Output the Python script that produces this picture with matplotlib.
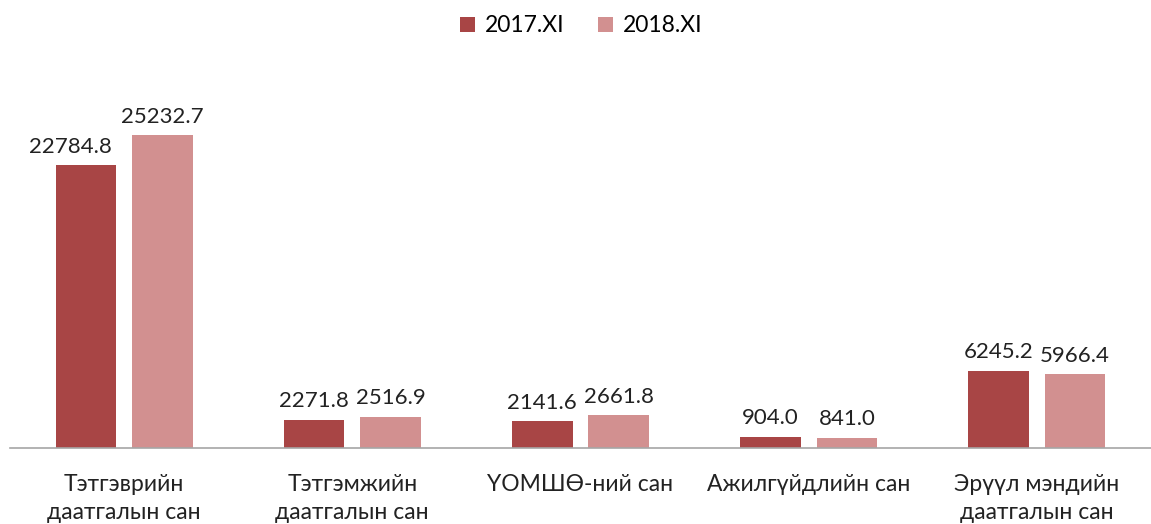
import matplotlib
matplotlib.use("Agg")
import matplotlib.pyplot as plt
import numpy as np

categories = ["Тэтгэврийн\nдаатгалын сан", "Тэтгэмжийн\nдаатгалын сан", "ҮОМШӨ-ний сан",
              "Ажилгүйдлийн сан", "Эрүүл мэндийн\nдаатгалын сан"]
series_names = ["2017.XI", "2018.XI"]
vals_2017 = [22784.8, 2271.8, 2141.6, 904.0, 6245.2]
vals_2018 = [25232.7, 2516.9, 2661.8, 841.0, 5966.4]

plt.rcParams['font.family'] = ['Lato', 'DejaVu Sans']

fig = plt.figure(figsize=(11.51, 5.24), dpi=100)
ax = fig.add_axes([10 / 1151, 76 / 524, 1 - 10 / 1151, 372 / 524])

x = np.arange(len(categories))
w = 0.265
off = 0.035 + w / 2
b1 = ax.bar(x - off, vals_2017, w, color="#A84545", label=series_names[0])
b2 = ax.bar(x + off, vals_2018, w, color="#D29090", label=series_names[1])

for bars in (b1, b2):
    for i, r in enumerate(bars):
        dx = -11 if (bars is b1 and i == 0) else 0
        ax.annotate(f"{r.get_height():.1f}", (r.get_x() + r.get_width() / 2, r.get_height()),
                    xytext=(dx, 6), textcoords="offset points", ha="center", va="bottom",
                    fontsize=16, color="#222222")

ax.set_xlim(-0.5, len(categories) - 0.5)
ax.set_ylim(0, 30000)
ax.set_xticks(x)
ax.set_xticklabels(categories, fontsize=16.5, color="#222222", linespacing=1.4)
ax.tick_params(axis="x", length=0, pad=19)
ax.set_yticks([])
for s in ["top", "right", "left"]:
    ax.spines[s].set_visible(False)
ax.spines["bottom"].set_color("#A6A6A6")
ax.spines["bottom"].set_linewidth(1.2)

fig.legend(loc="upper center", bbox_to_anchor=(0.505, 1.01), ncol=2, frameon=False,
           fontsize=16.5, handlelength=0.65, handleheight=0.65, handletextpad=0.4,
           columnspacing=1.5)

fig.savefig("out.png", dpi=100)
